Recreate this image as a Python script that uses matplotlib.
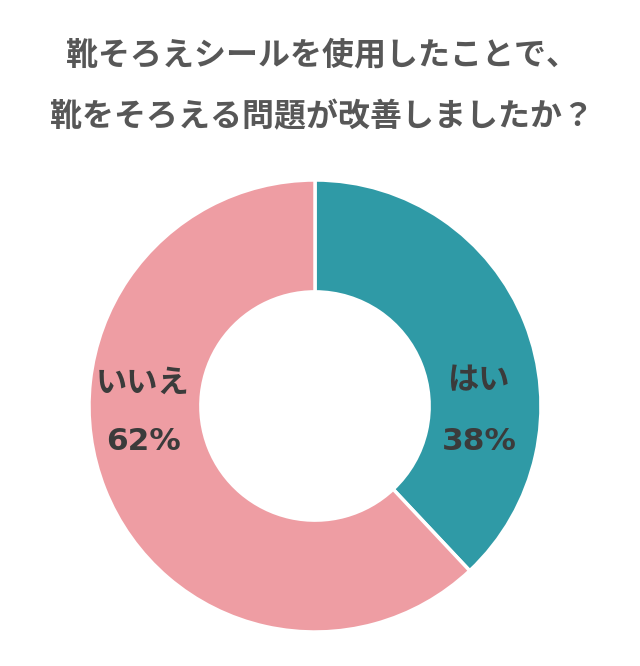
import matplotlib
matplotlib.use("Agg")
import matplotlib.pyplot as plt

plt.rcParams['font.family'] = ['Noto Sans CJK JP', 'DejaVu Sans']

title_lines = ["靴そろえシールを使用したことで、", "靴をそろえる問題が改善しましたか？"]
categories = ["はい", "いいえ"]
values = [38, 62]
colors = ["#2F9AA6", "#EE9DA3"]

W, H = 640, 666
fig = plt.figure(figsize=(W / 100, H / 100), dpi=100)
ax = fig.add_axes([0, 0, 1, 1])

cx, cy, R = 315, H - 406, 226
wedges, _ = ax.pie(values, colors=colors, startangle=90, counterclock=False,
                   center=(cx, cy), radius=R, frame=True,
                   wedgeprops=dict(width=R * 0.495, edgecolor='white', linewidth=2.5))
ax.set_xlim(0, W)
ax.set_ylim(0, H)
ax.set_aspect('equal')
ax.axis('off')

label_pos = {"はい": (478, 380, 441), "いいえ": (143, 383, 441)}
for cat, v in zip(categories, values):
    x, y1, y2 = label_pos[cat]
    ax.text(x, H - y1, cat, ha='center', va='center', fontsize=22.5,
            fontweight='bold', color='#3B3B3B')
    ax.text(x + 1, H - y2, f"{v}%", ha='center', va='center', fontsize=22.5,
            fontweight='bold', color='#3B3B3B', family=['DejaVu Sans'])

for y, line in zip([55, 117], title_lines):
    ax.text(W / 2 + 2, H - y, line, ha='center', va='center', fontsize=23,
            fontweight='bold', color='#575757')

fig.savefig("out.png", dpi=100, facecolor='white')
